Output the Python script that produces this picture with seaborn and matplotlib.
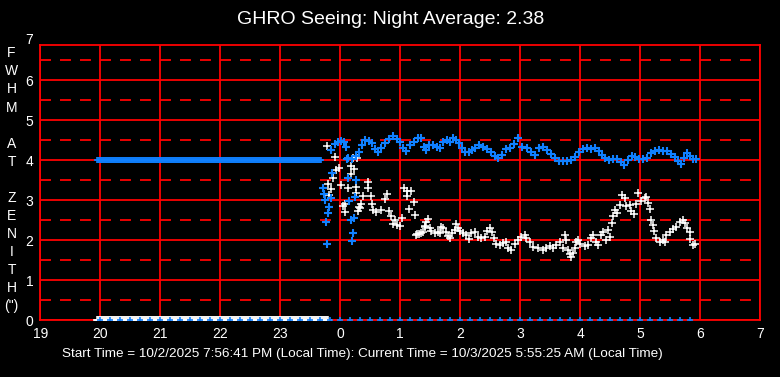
import numpy as np
import pandas as pd
import matplotlib
matplotlib.use("Agg")
import matplotlib.pyplot as plt
import seaborn as sns
from matplotlib import font_manager
from matplotlib.ticker import MultipleLocator, FixedLocator
from matplotlib.transforms import blended_transform_factory

# ---------------- data (times in minutes relative to local midnight) ----------------
title_text = "GHRO Seeing: Night Average: 2.38"
footer_text = ("Start Time = 10/2/2025 7:56:41 PM (Local Time): "
               "Current Time = 10/3/2025 5:55:25 AM (Local Time)")
ylabel_rows = list("FWHM AT ZENITH") + ['(")']

x_tick_hours = [-5, -4, -3, -2, -1, 0, 1, 2, 3, 4, 5, 6, 7]
x_tick_labels = ["19", "20", "21", "22", "23", "0", "1", "2", "3", "4", "5", "6", "7"]
y_tick_values = [0, 1, 2, 3, 4, 5, 6]

start_min = -243.3          # 7:56:41 PM
pre_blue_end_min = -19      # end of flat 4.0 segment
pre_white_end_min = -12     # end of flat 0.0 segment
pre_blue_value = 4.0
pre_white_value = 0.0

# blue markers sitting on the zero line every 10 minutes
zero_mark_min = list(range(-240, 351, 10))

blue_min = [-9, -5, -2, 1, 4, 6, 8, 12, 16, 19, 22, 25, 29, 32, 35, 38, 41, 45, 49, 53,
            57, 60, 63, 66, 70, 74, 78, 81, 84, 86, 89, 93, 97, 100, 103, 107, 110, 113, 116, 119,
            122, 125, 129, 132, 135, 139, 143, 147, 151, 155, 158, 162, 166, 170, 174, 178, 182, 187, 191, 195,
            199, 203, 207, 211, 215, 219, 223, 227, 231, 235, 239, 243, 247, 251, 255, 259, 262, 265, 269, 273,
            277, 281, 284, 288, 292, 295, 299, 303, 307, 311, 315, 319, 323, 327, 331, 335, 338, 341, 344, 347,
            350, 353, 356]
blue_val = [4.25, 4.40, 4.45, 4.47, 4.45, 4.33, 4.05, 4.02, 4.10, 4.20, 4.38, 4.50, 4.48, 4.42, 4.28, 4.20, 4.30, 4.42, 4.52, 4.60,
            4.52, 4.45, 4.30, 4.22, 4.37, 4.45, 4.56, 4.55, 4.33, 4.25, 4.37, 4.38, 4.33, 4.30, 4.45, 4.50, 4.46, 4.54, 4.50, 4.42,
            4.29, 4.20, 4.20, 4.25, 4.30, 4.38, 4.33, 4.27, 4.20, 4.10, 4.04, 4.12, 4.27, 4.30, 4.40, 4.54, 4.33, 4.29, 4.20, 4.13,
            4.30, 4.33, 4.25, 4.15, 4.05, 3.98, 3.97, 3.98, 4.00, 4.08, 4.20, 4.28, 4.29, 4.28, 4.29, 4.23, 4.12, 4.05, 4.00, 4.02,
            4.02, 3.95, 3.88, 4.00, 4.10, 4.08, 4.03, 4.02, 4.05, 4.17, 4.23, 4.24, 4.23, 4.22, 4.15, 4.08, 3.98, 3.90, 4.05, 4.17,
            4.10, 4.03, 4.02]

blue_out_min = [-17, -16, -15, -11, -12, -14, -13, -8, -9, 7, 8, 16, 15, 9, 11, 14, 13, 12]
blue_out_val = [3.30, 3.15, 3.00, 2.83, 2.67, 2.44, 1.90, 3.67, 3.06, 4.03, 3.56, 3.50, 3.07, 2.98, 2.50, 2.55, 2.17, 1.98]

white_min = [-13, -12, -11, -9, -9, -7, -5, -4, -1, 1, 3, 5, 5, 8, 8, 11, 11, 13, 14, 16,
             16, 17, 18, 19, 20, 21, 23, 28, 28, 31, 32, 33, 36, 41, 45, 47, 49, 51, 53, 55,
             57, 60, 62, 64, 67, 67, 69, 71, 74, 75, 76, 77, 79, 81, 83, 85, 85, 86, 88, 90,
             91, 95, 98, 100, 101, 103, 106, 108, 110, 112, 115, 116, 118, 120, 123, 126, 129, 131, 135, 138,
             141, 145, 147, 150, 152, 154, 156, 160, 163, 166, 168, 171, 175, 178, 181, 185, 186, 190, 193, 198,
             203, 206, 210, 213, 216, 220, 223, 225, 226, 228, 230, 231, 233, 235, 236, 238, 240, 245, 248, 251,
             253, 256, 258, 261, 263, 266, 268, 270, 272, 273, 275, 277, 280, 282, 285, 286, 290, 291, 294, 296,
             298, 301, 305, 306, 308, 310, 311, 313, 314, 316, 320, 323, 325, 326, 330, 333, 336, 340, 343, 345,
             347, 350, 350, 353, 355]
white_val = [4.35, 3.40, 3.12, 3.27, 3.06, 3.54, 4.07, 3.75, 3.79, 3.38, 2.85, 2.90, 2.69, 3.29, 3.54, 3.64, 3.85, 4.04, 3.77, 3.33,
             3.17, 4.04, 2.72, 2.82, 2.79, 2.90, 3.09, 3.45, 3.29, 3.09, 2.91, 2.76, 2.71, 2.76, 3.03, 3.14, 2.72, 2.61, 2.40, 2.51,
             2.37, 2.35, 2.56, 3.30, 3.23, 3.10, 2.77, 3.22, 2.95, 2.63, 2.12, 2.14, 2.15, 2.17, 2.19, 2.36, 2.33, 2.45, 2.53, 2.29,
             2.23, 2.17, 2.19, 2.17, 2.33, 2.29, 2.19, 2.11, 2.05, 2.17, 2.25, 2.39, 2.29, 2.22, 2.17, 2.13, 2.03, 2.17, 2.20, 2.08,
             2.04, 2.08, 2.22, 2.31, 2.19, 2.06, 1.91, 1.88, 1.92, 1.96, 1.80, 1.75, 1.90, 2.00, 2.08, 2.12, 2.04, 1.94, 1.83, 1.79,
             1.75, 1.79, 1.86, 1.79, 1.88, 1.95, 1.79, 2.13, 2.00, 1.74, 1.66, 1.58, 1.67, 1.80, 1.96, 2.00, 1.90, 1.84, 1.88, 2.06,
             2.13, 1.96, 1.88, 2.13, 2.19, 2.00, 2.25, 2.08, 2.42, 2.60, 2.75, 2.68, 2.88, 3.12, 3.04, 2.85, 2.88, 2.72, 2.65, 2.90,
             3.17, 2.98, 3.04, 3.08, 2.92, 2.77, 2.51, 2.38, 2.23, 2.04, 1.96, 2.00, 1.96, 2.13, 2.21, 2.28, 2.33, 2.44, 2.50, 2.42,
             2.29, 2.20, 2.03, 1.88, 1.90]

# ---------------- styling ----------------
BLUE = "#1080FF"
RED = "#FF0000"
sns.set_theme(style="dark")
names = {f.name for f in font_manager.fontManager.ttflist}
narrow = "Liberation Sans Narrow" if "Liberation Sans Narrow" in names else "Liberation Sans"
plt.rcParams["font.family"] = ["Liberation Sans", "DejaVu Sans"]
plt.rcParams["lines.scale_dashes"] = False
small_fs = 10.5 if narrow != "Liberation Sans" else 10.0
footer_fs = 10.5 if narrow != "Liberation Sans" else 9.7

# ---------------- build frames ----------------
pre_blue_t = np.arange(start_min, pre_blue_end_min, 1.0)
pre_white_t = np.arange(start_min, pre_white_end_min, 1.0)

white_df = pd.DataFrame({
    "hour": np.concatenate([pre_white_t, np.array(white_min, float)]) / 60.0,
    "fwhm": np.concatenate([np.full(len(pre_white_t), pre_white_value), np.array(white_val)]),
})
blue_df = pd.DataFrame({
    "hour": np.concatenate([np.array(blue_min, float), np.array(blue_out_min, float)]) / 60.0,
    "fwhm": np.concatenate([np.array(blue_val), np.array(blue_out_val)]),
})
blue_flat_df = pd.DataFrame({
    "hour": np.concatenate([pre_blue_t, np.array(zero_mark_min, float)]) / 60.0,
    "fwhm": np.concatenate([np.full(len(pre_blue_t), pre_blue_value), np.zeros(len(zero_mark_min))]),
})

fig = plt.figure(figsize=(7.8, 3.77), dpi=100, facecolor="black")
ax = fig.add_axes([40.3 / 780, 57 / 377, 720 / 780, 275 / 377])
ax.set_facecolor("black")

sns.scatterplot(data=white_df, x="hour", y="fwhm", marker="+", s=28, color="white",
                linewidth=1.1, ax=ax, zorder=3, legend=False)
sns.scatterplot(data=blue_flat_df, x="hour", y="fwhm", marker="+", s=22, color=BLUE,
                linewidth=1.2, ax=ax, zorder=4, legend=False)
sns.scatterplot(data=blue_df, x="hour", y="fwhm", marker="+", s=32, color=BLUE,
                linewidth=1.5, ax=ax, zorder=4, legend=False)

ax.set_xlim(-5, 7)
ax.set_ylim(0, 6.875)
ax.xaxis.set_major_locator(FixedLocator(x_tick_hours))
ax.set_xticklabels(x_tick_labels)
ax.yaxis.set_major_locator(FixedLocator(y_tick_values))
ax.yaxis.set_minor_locator(MultipleLocator(0.5))
ax.set_yticklabels([str(v) for v in y_tick_values])
ax.set_xlabel("")
ax.set_ylabel("")

ax.grid(False)
ax.grid(True, which="major", axis="both", color=RED, linewidth=1.3, linestyle="-", zorder=1)
ax.grid(True, which="minor", axis="y", color=RED, linewidth=1.3, linestyle=(0, (7.9, 6.5)), zorder=1)
ax.set_axisbelow(True)
for sp in ax.spines.values():
    sp.set_visible(True)
    sp.set_color(RED)
    sp.set_linewidth(1.3)

ax.tick_params(axis="both", which="both", length=0, colors="white", labelsize=small_fs, pad=5)
for lab in ax.get_xticklabels() + ax.get_yticklabels():
    lab.set_family([narrow, "DejaVu Sans"])
    lab.set_color("white")

# extra "7" label above the frame (the frame stops slightly below 7)
blend = blended_transform_factory(ax.transAxes, ax.transData)
ax.annotate("7", xy=(0, 7), xycoords=blend, xytext=(-5, 0), textcoords="offset points",
            ha="right", va="center", color="white", fontsize=small_fs,
            family=[narrow, "DejaVu Sans"], annotation_clip=False)

# title, footer, stacked y label
fig.text(391 / 780, 1 - 20 / 377, title_text, ha="center", va="center", color="white",
         fontsize=14, family=["Liberation Sans", "DejaVu Sans"])
fig.text(362.5 / 780, 1 - 354.5 / 377, footer_text, ha="center", va="center", color="white",
         fontsize=footer_fs, family=[narrow, "DejaVu Sans"])
for i, ch in enumerate(ylabel_rows):
    if ch.strip():
        fig.text(11.5 / 780, 1 - (53.3 + i * 18.07) / 377, ch, ha="center", va="center",
                 color="white", fontsize=small_fs, family=[narrow, "DejaVu Sans"])

fig.savefig("out.png", dpi=100, facecolor="black")
